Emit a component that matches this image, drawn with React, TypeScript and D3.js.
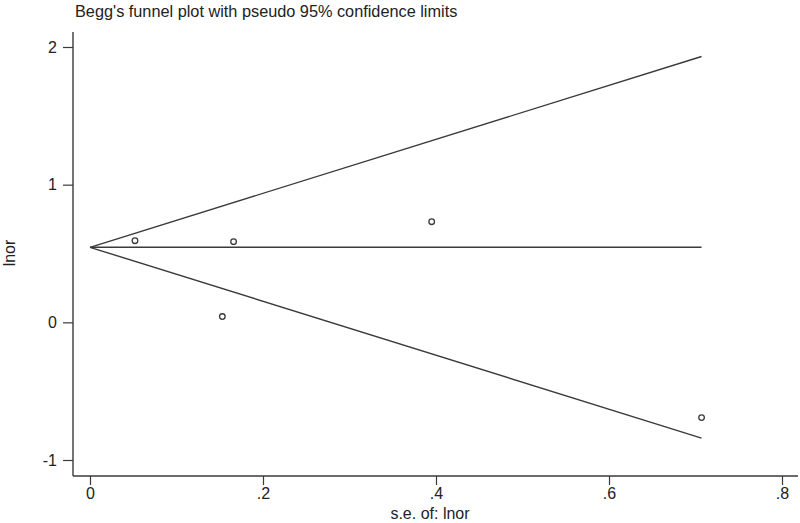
import { useRef, useEffect } from "react";
import * as d3 from "d3";

// study estimates: standard error and log odds ratio
const seValues = [0.052, 0.166, 0.153, 0.395, 0.707];
const lnorValues = [0.593, 0.586, 0.042, 0.731, -0.692];

// pseudo 95% limits, drawn out to the largest s.e.
const limitSe = [0, 0.707];
const upperLimit = [0.545, 1.931];
const lowerLimit = [0.545, -0.841];
const pooledLine = [0.545, 0.545];

const xTicks = [0, 0.2, 0.4, 0.6, 0.8];
const xTickLabels = ["0", ".2", ".4", ".6", ".8"];
const yTicks = [-1, 0, 1, 2];
const yTickLabels = ["-1", "0", "1", "2"];

const title = "Begg's funnel plot with pseudo 95% confidence limits";
const xTitle = "s.e. of: lnor";
const yTitle = "lnor";

const App = () => {
  const svgRef = useRef<SVGSVGElement>(null);

  useEffect(() => {
    const w = 800;
    const h = 523;
    const ink = "#3a3a3a";
    const font = "'Liberation Sans', Arial, sans-serif";

    const svg = d3.select(svgRef.current)
      .attr("width", w)
      .attr("height", h)
      .style("position", "absolute")
      .style("left", "0px")
      .style("top", "0px")
      .style("background", "#fff");
    svg.selectAll("*").remove();

    const x = d3.scaleLinear().domain([0, 0.8]).range([90, 782]);
    const y = d3.scaleLinear().domain([-1, 2]).range([460, 47]);

    // axes
    const xAxis = d3.axisBottom(x)
      .tickValues(xTicks)
      .tickFormat((_, i) => xTickLabels[i])
      .tickSize(9)
      .tickPadding(3)
      .tickSizeOuter(0);
    const gx = svg.append("g")
      .attr("transform", "translate(0, 476)")
      .call(xAxis);
    gx.select(".domain").remove();
    gx.selectAll("line").attr("stroke", ink).attr("stroke-width", 1.2);
    gx.selectAll("text")
      .attr("fill", "#222")
      .style("font-family", font)
      .style("font-size", "16px");

    const yAxis = d3.axisLeft(y)
      .tickValues(yTicks)
      .tickFormat((_, i) => yTickLabels[i])
      .tickSize(10)
      .tickPadding(6)
      .tickSizeOuter(0);
    const gy = svg.append("g")
      .attr("transform", "translate(73, 0)")
      .call(yAxis);
    gy.select(".domain").remove();
    gy.selectAll("line").attr("stroke", ink).attr("stroke-width", 1.2);
    gy.selectAll("text")
      .attr("fill", "#222")
      .style("font-family", font)
      .style("font-size", "16px");

    // axis lines
    svg.append("line")
      .attr("x1", 73).attr("x2", 73)
      .attr("y1", 32).attr("y2", 476)
      .attr("stroke", ink).attr("stroke-width", 1.4);
    svg.append("line")
      .attr("x1", 73).attr("x2", 798)
      .attr("y1", 476).attr("y2", 476)
      .attr("stroke", ink).attr("stroke-width", 1.4);

    // funnel lines
    const line = d3.line<number>()
      .x((_, i) => x(limitSe[i]))
      .y((d) => y(d));
    [upperLimit, pooledLine, lowerLimit].forEach((arr) => {
      svg.append("path")
        .datum(arr)
        .attr("fill", "none")
        .attr("stroke", ink)
        .attr("stroke-width", 1.4)
        .attr("d", line);
    });

    // studies
    svg.append("g")
      .selectAll("circle")
      .data(seValues)
      .join("circle")
      .attr("cx", (d) => x(d))
      .attr("cy", (_, i) => y(lnorValues[i]))
      .attr("r", 2.8)
      .attr("fill", "none")
      .attr("stroke", ink)
      .attr("stroke-width", 1.3);

    // titles
    svg.append("text")
      .attr("x", 75)
      .attr("y", 17)
      .attr("fill", "#222")
      .style("font-family", font)
      .style("font-size", "16.3px")
      .text(title);

    svg.append("text")
      .attr("x", 430)
      .attr("y", 519)
      .attr("text-anchor", "middle")
      .attr("fill", "#222")
      .style("font-family", font)
      .style("font-size", "16px")
      .text(xTitle);

    svg.append("text")
      .attr("transform", "translate(15, 253) rotate(-90)")
      .attr("text-anchor", "middle")
      .attr("fill", "#222")
      .style("font-family", font)
      .style("font-size", "16px")
      .text(yTitle);
  }, []);

  return <svg ref={svgRef}></svg>;
};

export default App;
